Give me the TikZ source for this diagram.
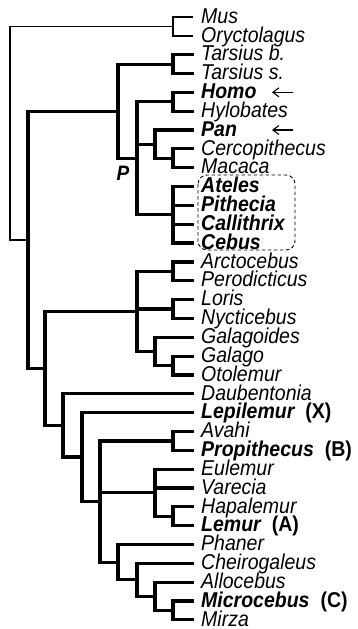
\documentclass[tikz,border=0pt]{standalone}
\usepackage{fontspec}
\setmainfont{Liberation Sans}
\usetikzlibrary{arrows.meta}
\tikzset{
  thk/.style={line width=3.2pt, line cap=rect, line join=miter},
  thn/.style={line width=1.6pt, line cap=rect, line join=miter},
  leaf/.style={anchor=base west, inner sep=0pt, font=\fontsize{19.5}{19.5}\selectfont\itshape},
  bleaf/.style={leaf, font=\fontsize{19.5}{19.5}\selectfont\itshape\bfseries},
  marker/.style={line width=1.1pt, -{Straight Barb[length=6pt,width=9pt,line width=1.1pt]}},
  groupbox/.style={draw, dashed, dash pattern=on 3.5pt off 2.5pt, line width=0.9pt, rounded corners=9pt},
}
\newcommand{\tag}[1]{\hspace{11pt}{\upshape\bfseries #1}}
\newcommand{\tall}[1]{\scalebox{1}[1.1]{#1}}
\begin{document}
\begin{tikzpicture}[x=1pt,y=-1pt]
\useasboundingbox (0,0) rectangle (357,629);
% leaf tips and labels
\foreach \i/\nm/\st in {
 0/Mus/leaf, 1/Oryctolagus/leaf, 2/Tarsius b./leaf, 3/Tarsius s./leaf,
 4/Homo/bleaf, 5/Hylobates/leaf, 6/Pan/bleaf, 7/Cercopithecus/leaf,
 8/Macaca/leaf, 9/Ateles/bleaf, 10/Pithecia/bleaf, 11/Callithrix/bleaf,
 12/Cebus/bleaf, 13/Arctocebus/leaf, 14/Perodicticus/leaf, 15/Loris/leaf,
 16/Nycticebus/leaf, 17/Galagoides/leaf, 18/Galago/leaf, 19/Otolemur/leaf,
 20/Daubentonia/leaf, 21/Lepilemur\tag{(X)}/bleaf, 22/Avahi/leaf,
 23/Propithecus\tag{(B)}/bleaf, 24/Eulemur/leaf, 25/Varecia/leaf,
 26/Hapalemur/leaf, 27/Lemur\tag{(A)}/bleaf, 28/Phaner/leaf,
 29/Cheirogaleus/leaf, 30/Allocebus/leaf, 31/Microcebus\tag{(C)}/bleaf,
 32/Mirza/leaf}{
  \pgfmathsetmacro{\yy}{17+18.84*\i}
  \coordinate (l\i) at (192,\yy);
  \node[\st] (t\i) at (201,\yy+6.2) {\tall{\nm}};
}
% internal nodes
\coordinate (nMO)   at (173,26.42);
\coordinate (nTar)  at (173,64.10);
\coordinate (nHH)   at (173,101.78);
\coordinate (nCM)   at (173,158.30);
\coordinate (nPan)  at (155,144.17);
\coordinate (nNW)   at (173,214.82);
\coordinate (nAnth) at (137,158.30);
\coordinate (nHap)  at (118,111.20);
\coordinate (nAP)   at (173,271.34);
\coordinate (nLN)   at (173,309.02);
\coordinate (nGO)   at (173,365.54);
\coordinate (nGal)  at (155,351.41);
\coordinate (nLor)  at (137,311.40);
\coordinate (nAvP)  at (173,440.90);
\coordinate (nHL)   at (173,516.26);
\coordinate (nLmd)  at (155,492.71);
\coordinate (nMM)   at (173,610.46);
\coordinate (nAM)   at (155,596.33);
\coordinate (nCA)   at (137,579.85);
\coordinate (nChe)  at (118,562.19);
\coordinate (nLC)   at (100,501.50);
\coordinate (nLL)   at (82,457.07);
\coordinate (nLemf) at (63,425.40);
\coordinate (nStr)  at (45,368.40);
\coordinate (nPri)  at (28,239.80);
\coordinate (nRoot) at (10,133.10);
% outgroup (thin)
\draw[thn] (l0) -| (nMO);
\draw[thn] (l1) -| (nMO);
\draw[thn] (nMO) -| (nRoot);
\draw[thn] (nPri) -| (nRoot);
% primates (thick)
\foreach \c/\p in {l2/nTar, l3/nTar, l4/nHH, l5/nHH, l7/nCM, l8/nCM,
  l6/nPan, nCM/nPan, l9/nNW, l10/nNW, l11/nNW, l12/nNW,
  nHH/nAnth, nPan/nAnth, nNW/nAnth, nTar/nHap, nAnth/nHap,
  l13/nAP, l14/nAP, l15/nLN, l16/nLN, l18/nGO, l19/nGO,
  l17/nGal, nGO/nGal, nAP/nLor, nLN/nLor, nGal/nLor,
  l22/nAvP, l23/nAvP, l26/nHL, l27/nHL, l24/nLmd, l25/nLmd, nHL/nLmd,
  l31/nMM, l32/nMM, l30/nAM, nMM/nAM, l29/nCA, nAM/nCA, l28/nChe, nCA/nChe,
  nAvP/nLC, nLmd/nLC, nChe/nLC, l21/nLL, nLC/nLL, l20/nLemf, nLL/nLemf,
  nLor/nStr, nLemf/nStr, nHap/nPri, nStr/nPri}{
  \draw[thk] (\c) -| (\p);
}
% label P
\node[anchor=base west, inner sep=0pt, font=\fontsize{19}{19}\selectfont\itshape\bfseries] (lblP) at (116.5,180.5) {\tall{P}};
% dashed group box
\draw[groupbox] (198,175) rectangle (295,250);
% arrows
\coordinate (aHs) at (293,92.36);
\coordinate (aHe) at (272,92.36);
\coordinate (aPs) at (293,130.04);
\coordinate (aPe) at (272,130.04);
\draw[marker] (aHs) -- (aHe);
\draw[marker] (aPs) -- (aPe);
\end{tikzpicture}
\end{document}
